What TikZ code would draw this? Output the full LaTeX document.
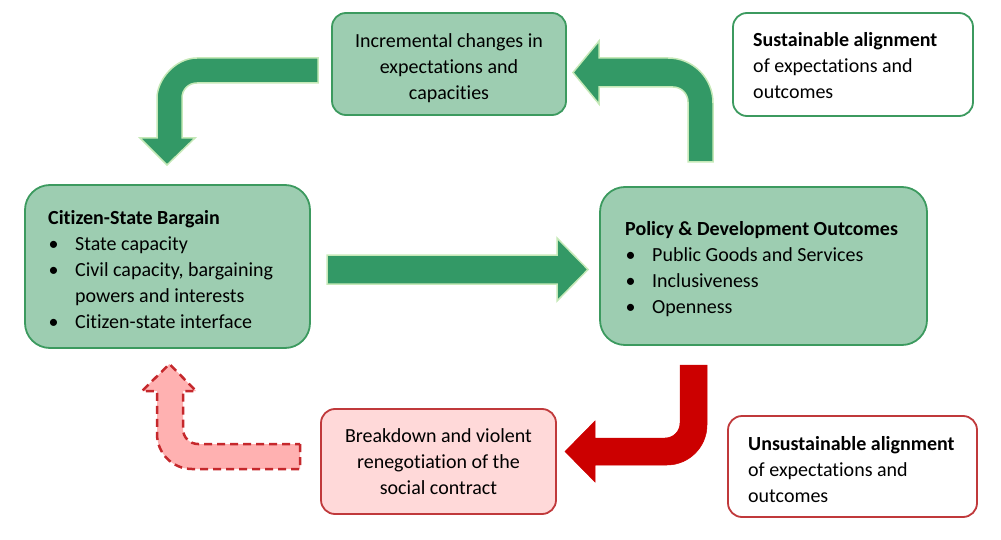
\documentclass[tikz,border=0pt]{standalone}
\usepackage{fontspec}
\setmainfont{Carlito}[Ligatures=NoCommon]
\definecolor{boxfill}{HTML}{9DCDB1}
\definecolor{boxline}{HTML}{3C9A5F}
\definecolor{arrowgreen}{HTML}{339966}
\definecolor{arrowedge}{HTML}{C6E9B8}
\definecolor{darkred}{HTML}{CC0000}
\definecolor{pinkfill}{HTML}{FFB1B1}
\definecolor{pinkline}{HTML}{C5282C}
\definecolor{rosefill}{HTML}{FFD9D9}
\definecolor{roseline}{HTML}{C0393B}
\newcommand{\bul}{\makebox[27pt][l]{\hspace{0.5pt}\textbullet}}
\begin{document}
\begin{tikzpicture}[x=1pt,y=-1pt,
  font=\fontsize{20}{26}\selectfont,
  greenbox/.style={draw=boxline, fill=boxfill, line width=1.8pt, inner sep=0pt},
  whitegreen/.style={draw=boxline, fill=white, line width=1.8pt, inner sep=0pt, rounded corners=14pt},
  rosebox/.style={draw=roseline, fill=rosefill, line width=1.8pt, inner sep=0pt, rounded corners=14pt},
  whitered/.style={draw=roseline, fill=white, line width=1.8pt, inner sep=0pt, rounded corners=14pt},
  txt/.style={inner sep=0pt, align=left, anchor=west},
  ctxt/.style={inner sep=0pt, align=center},
  garrow/.style={fill=arrowgreen, draw=arrowedge, line width=1.5pt, line join=miter},
  rarrow/.style={fill=darkred, draw=darkred, line width=0.5pt},
  parrow/.style={fill=pinkfill, draw=pinkline, line width=2.5pt, dash pattern=on 8pt off 5pt}]
\useasboundingbox (0,0) rectangle (1001,540);

% boxes
\node[greenbox, rounded corners=14pt, minimum width=234pt, minimum height=102pt] (inc) at (449,64) {};
\node[ctxt] (inctxt) at (449,68) {Incremental changes in\\expectations and\\capacities};
\node[whitegreen, minimum width=240pt, minimum height=103pt] (sus) at (853,64.5) {};
\node[txt] (sustxt) at (753,66) {\textbf{Sustainable alignment}\\of expectations and\\outcomes};

\node[greenbox, rounded corners=25pt, minimum width=285pt, minimum height=163pt] (csb) at (167.5,266.5) {};
\node[txt] (csbtxt) at (48,269.5) {\textbf{Citizen-State Bargain}\\\bul State capacity\\\bul Civil capacity, bargaining\\\hspace*{27pt}powers and interests\\\bul Citizen-state interface};

\node[greenbox, rounded corners=25pt, minimum width=327pt, minimum height=158pt] (pdo) at (763.5,266) {};
\node[txt] (pdotxt) at (625,269.5) {\textbf{Policy \& Development Outcomes}\\\bul Public Goods and Services\\\bul Inclusiveness\\\bul Openness};

\node[rosebox, minimum width=235pt, minimum height=105pt] (brk) at (438.5,461.5) {};
\node[ctxt] (brktxt) at (438.5,461.5) {Breakdown and violent\\renegotiation of the\\social contract};
\node[whitered, minimum width=249pt, minimum height=101pt] (uns) at (852.5,466.5) {};
\node[txt] (unstxt) at (748,469.5) {\textbf{Unsustainable alignment}\\of expectations and\\outcomes};

% arrows
\draw[garrow] (327,255) -- (557,255) -- (557,238) -- (588,269.5) -- (557,301) -- (557,284) -- (327,284) -- cycle;

\draw[garrow] (318,58) -- (197,58) .. controls (175,58) and (157,80) .. (157,98) -- (157,138) -- (140,138) -- (167,165) -- (195,138) -- (182,138) -- (182,98) .. controls (182,89.7) and (188.3,83) .. (197,83) -- (318,83) -- cycle;

\draw[garrow] (713,162) -- (713,103) .. controls (713,78) and (693,58) .. (668,58) -- (599,58) -- (599,41) -- (573,72.5) -- (599,104) -- (599,87) -- (673,87) .. controls (681.3,87) and (688,93.7) .. (688,102) -- (688,162) -- cycle;

\draw[rarrow] (680,365) -- (707,365) -- (707,425) .. controls (707,447) and (689,465) .. (667,465) -- (595,465) -- (595,482) -- (565,451.5) -- (595,421) -- (595,438) -- (665,438) .. controls (673.3,438) and (680,431.3) .. (680,423) -- cycle;

\draw[parrow] (300,444) -- (300,469) -- (192,469) .. controls (172.7,469) and (157,453.3) .. (157,434) -- (157,391) -- (142,391) -- (169.5,364) -- (196,391) -- (183,391) -- (183,429) .. controls (183,437.3) and (189.7,444) .. (198,444) -- cycle;
\end{tikzpicture}
\end{document}
